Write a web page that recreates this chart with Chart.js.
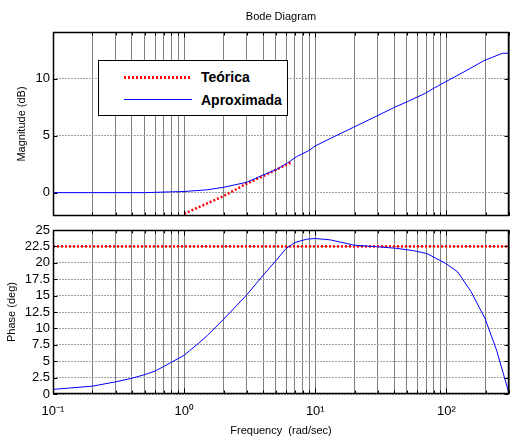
<!DOCTYPE html>
<html>
<head>
<meta charset="utf-8">
<title>Bode Diagram</title>
<script src="https://cdn.jsdelivr.net/npm/chart.js@4/dist/chart.umd.min.js"></script>
<style>
    body { margin: 0; background: #fff; font-family: "Liberation Sans", Arial, sans-serif; }
    #wrap { position: relative; width: 510px; height: 439px; overflow: hidden; }
    #magChart { position: absolute; left: 0; top: 0; }
    #phaseChart { position: absolute; left: 0; top: 222px; }
    #legend {
        position: absolute; left: 98px; top: 60px; width: 190px; height: 56px;
        border: 1px solid #000; background: #fff; box-sizing: border-box;
    }
    .leg-row { position: absolute; left: 0; width: 100%; height: 20px; }
    .leg-line { position: absolute; left: 25px; width: 68px; top: 9px; }
    .leg-red { height: 3px; background: repeating-linear-gradient(90deg, #f00 0 2px, transparent 2px 4px); }
    .leg-blue { height: 1px; background: #00f; }
    .leg-text { position: absolute; left: 102px; top: 1px; font-weight: bold; font-size: 14px; line-height: 18px; color: #000; }
</style>
</head>
<body>
<div id="wrap">
    <canvas id="magChart" width="510" height="218"></canvas>
    <canvas id="phaseChart" width="510" height="217"></canvas>
    <div id="legend">
        <div class="leg-row" style="top: 6px;"><span class="leg-line leg-red"></span><span class="leg-text">Teórica</span></div>
        <div class="leg-row" style="top: 29px;"><span class="leg-line leg-blue"></span><span class="leg-text">Aproximada</span></div>
    </div>
</div>

<script>
// Magnitude, approximated response (blue)
const magFreq = [0.1, 0.2, 0.3, 0.5, 0.7, 0.8, 1, 1.5, 2, 3, 4, 5.1, 6.1, 7.2, 8.9, 10, 13, 19.6, 29.5, 39.7, 50.3, 69, 80, 99, 136, 193, 224, 267, 300];
const magDb = [0, 0, 0, 0, 0.05, 0.07, 0.1, 0.25, 0.47, 0.91, 1.55, 2.05, 2.58, 3.16, 3.68, 4.1, 4.75, 5.74, 6.73, 7.46, 7.98, 8.72, 9.16, 9.74, 10.6, 11.58, 11.88, 12.23, 12.23];

// Magnitude, theoretical (red dotted)
const theoMagFreq = [1, 2, 3, 4, 5, 6, 6.6];
const theoMagDb = [-1.85, -0.3, 0.8, 1.45, 2.0, 2.45, 2.67];

// Phase, approximated response (blue)
const phaseFreq = [0.1, 0.2, 0.3, 0.4, 0.5, 0.6, 0.7, 0.8, 0.9, 1, 1.1, 1.3, 1.5, 2, 3, 4, 5, 6, 7, 8.6, 10, 13, 19.6, 29.5, 42, 56, 71, 99, 122, 154, 197, 241, 300];
const phaseDeg = [0.7, 1.2, 1.85, 2.4, 2.95, 3.5, 4.2, 4.85, 5.4, 5.9, 6.6, 7.8, 8.9, 11.4, 15.1, 18.1, 20.3, 22.2, 23.1, 23.6, 23.7, 23.5, 22.7, 22.45, 22.2, 21.85, 21.4, 19.9, 18.6, 15.6, 11.5, 6.7, 0.1];

// Phase, theoretical (red dotted)
const theoPhaseFreq = [0.1, 300];
const theoPhaseDeg = [22.5, 22.5];

// Axis ticks
const decadeLabels = { 0.1: '10\u207B\u00B9', 1: '10\u2070', 10: '10\u00B9', 100: '10\u00B2' };
const freqTicks = [];
[-1, 0, 1, 2].forEach(d => {
    for (let m = 1; m <= 9; m++) {
        const v = +(m * Math.pow(10, d)).toPrecision(3);
        if (v <= 300) freqTicks.push(v);
    }
});
freqTicks.push(300);
const magTicks = [0, 5, 10];
const phaseTicks = [0, 2.5, 5, 7.5, 10, 12.5, 15, 17.5, 20, 22.5, 25];

const toPoints = (xs, ys) => xs.map((x, i) => ({ x: x, y: ys[i] }));
const tickFont = { family: '"Liberation Sans", Arial, sans-serif', size: 13 };
const titleFont = { family: '"Liberation Sans", Arial, sans-serif', size: 11 };

// Black box round the plot area plus MATLAB-style inner tick marks
const framePlugin = {
    id: 'frame',
    afterDraw(chart) {
        const ctx = chart.ctx;
        const a = chart.chartArea;
        const xs = chart.scales.x;
        const ys = chart.scales.y;
        const L = Math.round(a.left) + 0.5, R = Math.round(a.right) - 0.5;
        const T = Math.round(a.top) + 0.5, B = Math.round(a.bottom) - 0.5;
        ctx.save();
        ctx.strokeStyle = '#000';
        ctx.lineWidth = 1;
        ctx.beginPath();
        xs.ticks.forEach(t => {
            const px = Math.round(xs.getPixelForValue(t.value)) + 0.5;
            const len = decadeLabels[t.value] ? 5 : 3;
            ctx.moveTo(px, T); ctx.lineTo(px, T + len);
            ctx.moveTo(px, B); ctx.lineTo(px, B - len);
        });
        ys.ticks.forEach(t => {
            const py = Math.round(ys.getPixelForValue(t.value)) + 0.5;
            ctx.moveTo(L, py); ctx.lineTo(L + 4, py);
            ctx.moveTo(R, py); ctx.lineTo(R - 4, py);
        });
        ctx.stroke();
        ctx.lineWidth = 1.5;
        ctx.strokeRect(L, T, R - L, B - T);
        ctx.restore();
    }
};

function freqAxis(position, showLabels, titleText, titlePadding, height) {
    return {
        type: 'logarithmic',
        position: position,
        min: 0.1,
        max: 300,
        afterBuildTicks: s => { s.ticks = freqTicks.map(v => ({ value: v })); },
        afterFit: s => { s.height = height; s.paddingLeft = 0; s.paddingRight = 0; },
        grid: { color: '#808080', lineWidth: 1, drawTicks: false },
        border: { display: false },
        ticks: {
            display: showLabels,
            autoSkip: false,
            maxRotation: 0,
            padding: 10,
            color: '#000',
            font: tickFont,
            callback: v => decadeLabels[v] || ''
        },
        title: {
            display: true,
            text: titleText,
            color: '#000',
            font: titleFont,
            padding: titlePadding
        }
    };
}

function valueAxis(min, max, tickList, titleText, titlePad) {
    return {
        type: 'linear',
        min: min,
        max: max,
        afterBuildTicks: s => { s.ticks = tickList.map(v => ({ value: v })); },
        afterFit: s => { s.width = 53; s.paddingTop = 0; s.paddingBottom = 0; },
        grid: { color: '#a0a0a0', lineWidth: 1, drawTicks: false },
        border: { display: false, dash: [2, 1] },
        ticks: {
            autoSkip: false,
            padding: 3,
            color: '#000',
            font: tickFont,
            callback: v => String(v)
        },
        title: {
            display: true,
            text: titleText,
            color: '#000',
            font: titleFont,
            padding: { top: titlePad, bottom: 0 }
        }
    };
}

const commonOptions = {
    responsive: false,
    animation: false,
    devicePixelRatio: 1,
    elements: { point: { radius: 0 }, line: { tension: 0 } },
    plugins: { legend: { display: false }, tooltip: { enabled: false } }
};

new Chart(document.getElementById('magChart'), {
    type: 'line',
    data: {
        datasets: [{
            label: 'Aproximada',
            data: toPoints(magFreq, magDb),
            borderColor: '#0000ff',
            borderWidth: 1
        }, {
            label: 'Teórica',
            data: toPoints(theoMagFreq, theoMagDb),
            borderColor: '#ff0000',
            borderWidth: 2.5,
            borderDash: [2, 2]
        }]
    },
    options: Object.assign({}, commonOptions, {
        layout: { padding: { left: 0, right: 1, top: 0, bottom: 2 } },
        scales: {
            x: freqAxis('top', false, 'Bode Diagram', { top: 10.5, bottom: 0 }, 32),
            y: valueAxis(-2.05, 14.1, magTicks, 'Magnitude (dB)', 15)
        }
    }),
    plugins: [framePlugin]
});

new Chart(document.getElementById('phaseChart'), {
    type: 'line',
    data: {
        datasets: [{
            label: 'Aproximada',
            data: toPoints(phaseFreq, phaseDeg),
            borderColor: '#0000ff',
            borderWidth: 1
        }, {
            label: 'Teórica',
            data: toPoints(theoPhaseFreq, theoPhaseDeg),
            borderColor: '#ff0000',
            borderWidth: 2.5,
            borderDash: [2, 2]
        }]
    },
    options: Object.assign({}, commonOptions, {
        layout: { padding: { left: 0, right: 1, top: 8, bottom: 0 } },
        scales: {
            x: freqAxis('bottom', true, 'Frequency  (rad/sec)', { top: 0, bottom: 1 }, 45),
            y: valueAxis(0, 25, phaseTicks, 'Phase (deg)', 5)
        }
    }),
    plugins: [framePlugin]
});
</script>
</body>
</html>
